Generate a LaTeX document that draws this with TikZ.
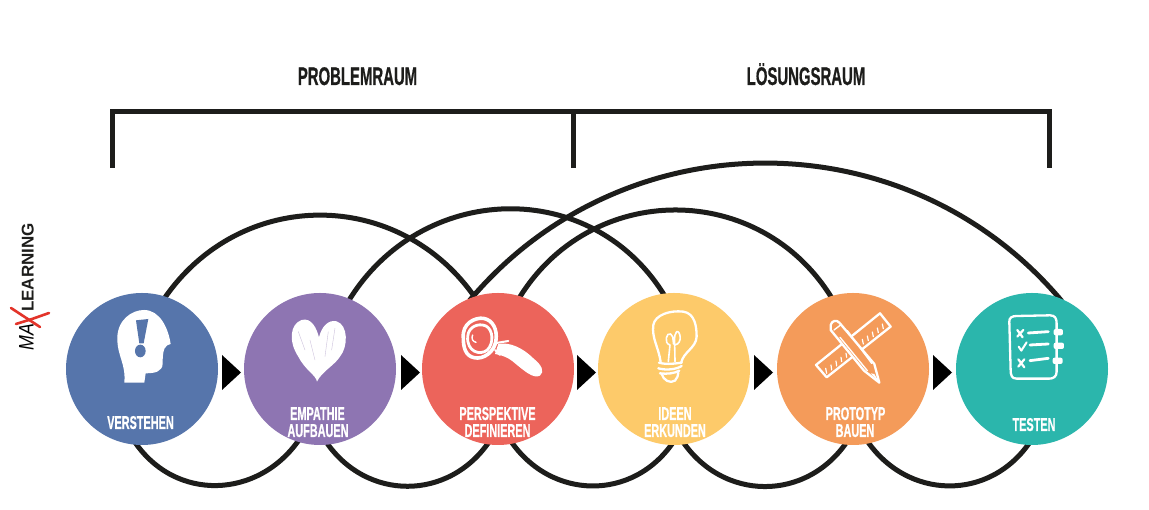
\documentclass[tikz,border=0pt]{standalone}
\usepackage{fontspec}
\newfontfamily\cond[FakeStretch=0.585,FakeBold=0.6]{Liberation Sans}
\newfontfamily\logofont{Liberation Sans}
\usetikzlibrary{backgrounds}
\definecolor{ink}{HTML}{1D1D1B}
\definecolor{cblue}{HTML}{5675AB}
\definecolor{cpurple}{HTML}{8E75B2}
\definecolor{cred}{HTML}{EC645B}
\definecolor{cyellow}{HTML}{FDCA6A}
\definecolor{corange}{HTML}{F49B5A}
\definecolor{cteal}{HTML}{2BB6AC}
\definecolor{xred}{HTML}{E3342A}
\tikzset{
  stage/.style={circle,minimum size=152pt,inner sep=0pt,outer sep=0pt,fill=#1},
  looparc/.style={draw=ink,line width=5pt,shorten <=-4pt,shorten >=-4pt},
  bracket/.style={draw=ink,line width=5pt},
  tip/.style={fill=black},
  stagelabel/.style={text=white,anchor=base,inner sep=0pt,font=\cond\bfseries\fontsize{18.6}{18.6}\selectfont},
  head/.style={text=ink,anchor=base,inner sep=0pt,font=\cond\bfseries\fontsize{25.5}{25.5}\selectfont},
  iconfill/.style={fill=white,draw=none},
  iconline/.style={draw=white,line width=2.3pt,line cap=round,line join=round},
  zoomA/.style={shift={(0,310)},x=0.3333pt,y=-0.3333pt},
  zoomB/.style={shift={(400,230)},x=0.3333pt,y=-0.3333pt},
  zoomC/.style={shift={(760,230)},x=0.3333pt,y=-0.3333pt},
}
\begin{document}
\begin{tikzpicture}[x=1pt,y=1pt]
\useasboundingbox (0,0) rectangle (1149,510);

% stages
\node[stage=cblue]   (verstehen) at (142,141) {};
\node[stage=cpurple] (empathie)  at (320,141) {};
\node[stage=cred]    (perspektive) at (498,141) {};
\node[stage=cyellow] (ideen)     at (674,141) {};
\node[stage=corange] (prototyp)  at (853,141) {};
\node[stage=cteal]   (testen)    at (1032,141) {};

% arcs, behind the stages
\begin{scope}[on background layer]
\fill[white] (0,0) rectangle (1149,510);
\draw[looparc] (verstehen.72) to[out=56,in=124,looseness=1.1] (perspektive.108);
\draw[looparc] (empathie.67) to[out=59,in=121,looseness=1.12] (ideen.98);
\draw[looparc] (perspektive.73) to[out=59,in=121,looseness=1.12] (prototyp.107);
\draw[looparc] (perspektive.110) to[out=50,in=130,looseness=1.03] (testen.69);
\draw[looparc] (verstehen.-94) to[out=-56,in=-124,looseness=1.1] (empathie.-107);
\draw[looparc] (empathie.-84) to[out=-56,in=-124,looseness=1.1] (perspektive.-98);
\draw[looparc] (perspektive.-79) to[out=-56,in=-124,looseness=1.1] (ideen.-92);
\draw[looparc] (ideen.-82) to[out=-56,in=-124,looseness=1.1] (prototyp.-96);
\draw[looparc] (prototyp.-78) to[out=-56,in=-124,looseness=1.1] (testen.-93);
\end{scope}

% brackets
\draw[bracket] (112.5,342) -- (112.5,398.5) -- (1049.5,398.5) -- (1049.5,342);
\draw[bracket] (573,342) -- (573,398.5);

% headings
\node[head] (problem) at (357.5,425) {PROBLEMRAUM};
\node[head] (loesung) at (806,425) {LÖSUNGSRAUM};

% triangles
\fill[tip] (222,155) -- (241,137.5) -- (222,120) -- cycle;
\fill[tip] (401,155) -- (420,137.5) -- (401,120) -- cycle;
\fill[tip] (577,155) -- (596,137.5) -- (577,120) -- cycle;
\fill[tip] (754,155) -- (773,137.5) -- (754,120) -- cycle;
\fill[tip] (933,155) -- (952,137.5) -- (933,120) -- cycle;

% labels
\node[stagelabel] (l1) at (140.5,81) {VERSTEHEN};
\node[stagelabel] (l2a) at (317.5,90) {EMPATHIE};
\node[stagelabel] (l2b) at (318,73) {AUFBAUEN};
\node[stagelabel] (l3a) at (497.5,90) {PERSPEKTIVE};
\node[stagelabel] (l3b) at (497.5,73) {DEFINIEREN};
\node[stagelabel] (l4a) at (675,90) {IDEEN};
\node[stagelabel] (l4b) at (675,73) {ERKUNDEN};
\node[stagelabel] (l5a) at (855.5,90) {PROTOTYP};
\node[stagelabel] (l5b) at (855,73) {BAUEN};
\node[stagelabel] (l6) at (1034,79) {TESTEN};

% logo
\node[rotate=90,anchor=base west,inner sep=0pt,text=ink,font=\logofont\bfseries\fontsize{17}{17}\selectfont] (learning) at (33.5,198) {LEARNING};
\node[rotate=90,anchor=base,inner sep=0pt,text=black,font=\logofont\itshape\fontsize{21}{21}\selectfont,xscale=0.85] (ma) at (33.5,173) {MA};
\draw[xred,line width=2.6pt,line cap=round] (11,202) -- (40,183);
\draw[xred,line width=2.6pt,line cap=round] (49,197) -- (32,191) -- (16,186);

% head icon
\begin{scope}[zoomA]
\fill[iconfill] (373,548) .. controls (378,490) and (352,470) .. (352,415)
  .. controls (352,360) and (395,330) .. (432,330)
  .. controls (480,330) and (505,385) .. (512,432)
  .. controls (495,436) and (488,445) .. (488,490)
  .. controls (488,515) and (465,520) .. (437,520) -- (433,548) -- cycle;
\fill[cblue] (408,361) -- (445,357) -- (431,430) -- (418,430) -- cycle;
\fill[cblue] (421,453) ellipse [x radius=16,y radius=19];
\end{scope}

% heart icon
\begin{scope}[zoomA]
\fill[iconfill] (951,545) .. controls (948,525) and (915,510) .. (895,470)
  .. controls (865,425) and (870,372) .. (905,360)
  .. controls (935,352) and (950,385) .. (957,412)
  .. controls (965,380) and (985,358) .. (1010,364)
  .. controls (1045,375) and (1045,440) .. (1020,470)
  .. controls (1005,495) and (965,515) .. (951,545) -- cycle;
\draw[cpurple!45!white,line width=0.4pt,line cap=round] (895,395) -- (915,450) (930,420) -- (945,480) (985,395) -- (975,470) (1005,385) -- (995,450);
\end{scope}

% magnifier icon
\begin{scope}[zoomB]
\fill[iconfill] (295,192) .. controls (330,185) and (370,205) .. (400,235)
  .. controls (425,255) and (435,275) .. (420,287)
  .. controls (400,298) and (370,270) .. (345,250)
  .. controls (325,232) and (305,225) .. (285,222) -- cycle;
\draw[iconline,line width=3.6pt] (190,175) .. controls (185,130) and (225,112) .. (250,115)
  .. controls (280,120) and (292,150) .. (288,180)
  .. controls (285,215) and (250,240) .. (222,233)
  .. controls (198,228) and (190,205) .. (190,175) -- cycle;
\draw[iconline,line width=2.8pt] (203,170) .. controls (205,140) and (235,128) .. (258,138)
  .. controls (280,150) and (282,190) .. (262,210)
  .. controls (240,228) and (200,215) .. (203,170) -- cycle;
\draw[iconline,line width=1.4pt] (218,165) .. controls (213,175) and (218,185) .. (228,187);
\draw[iconline,line width=2pt] (283,190) -- (325,183) (285,210) -- (300,225);
\end{scope}

% bulb icon
\begin{scope}[zoomB]
\draw[iconline] (782,245) .. controls (775,200) and (755,175) .. (760,135)
  .. controls (765,105) and (810,90) .. (850,95)
  .. controls (885,100) and (890,140) .. (890,170)
  .. controls (888,205) and (850,215) .. (843,250);
\draw[iconline,line width=1.6pt] (805,245) -- (810,195) .. controls (790,190) and (800,155) .. (812,162)
  .. controls (825,170) and (815,195) .. (825,195)
  .. controls (850,190) and (840,150) .. (830,155)
  .. controls (820,165) and (825,190) .. (825,245);
\draw[iconline] (777,248) .. controls (800,255) and (830,250) .. (845,248);
\draw[iconline] (775,265) .. controls (800,272) and (830,268) .. (845,258);
\draw[iconline] (780,280) .. controls (800,283) and (825,280) .. (838,272);
\draw[iconline] (785,282) .. controls (790,300) and (810,312) .. (825,302) .. controls (832,295) and (835,285) .. (835,278);
\end{scope}

% pencil and ruler icon
\begin{scope}[zoomC]
\draw[iconline] (168,255) -- (360,100) -- (392,140) -- (200,292) -- cycle;
\draw[iconline,line width=1.2pt] (200,280) -- (197,265) (215,270) -- (213,255) (230,258) -- (228,243) (245,245) -- (243,232) (260,232) -- (258,220) (275,222) -- (272,208)
  (310,192) -- (307,178) (325,182) -- (322,168) (340,170) -- (337,156) (355,158) -- (352,144) (370,146) -- (367,132);
\filldraw[draw=white,fill=corange,line width=2.3pt,line join=round] (212,135) .. controls (215,122) and (230,118) .. (238,128) -- (343,252) -- (358,308) -- (312,272) -- (212,150) -- cycle;
\draw[iconline,line width=1.4pt] (222,150) -- (242,135) (240,172) -- (322,272) (262,152) -- (335,250);
\fill[iconfill] (358,308) -- (343,282) -- (332,280) -- cycle;
\end{scope}

% notebook icon
\begin{scope}[zoomC]
\draw[iconline] (770,108) -- (870,106) .. controls (885,106) and (890,115) .. (890,130) -- (890,275)
  .. controls (890,290) and (880,296) .. (868,296) -- (770,296)
  .. controls (755,296) and (752,285) .. (752,270) -- (748,125) .. controls (747,113) and (757,108) .. (770,108);
\fill[iconfill,rounded corners=2pt] (881,147) rectangle (909,166);
\fill[iconfill,rounded corners=2pt] (881,188) rectangle (912,207);
\fill[iconfill,rounded corners=2pt] (878,233) rectangle (908,252);
\draw[iconline,line width=2.2pt] (772,150) -- (788,172) (790,150) -- (772,170);
\draw[iconline,line width=2.8pt] (805,159) -- (865,155);
\draw[iconline,line width=2pt] (776,200) -- (784,212) -- (800,187);
\draw[iconline,line width=2.8pt] (810,195) -- (865,192);
\draw[iconline,line width=2.2pt] (775,238) -- (793,262) (793,238) -- (775,260);
\draw[iconline,line width=2.8pt] (810,242) -- (865,235);
\end{scope}
\end{tikzpicture}
\end{document}
